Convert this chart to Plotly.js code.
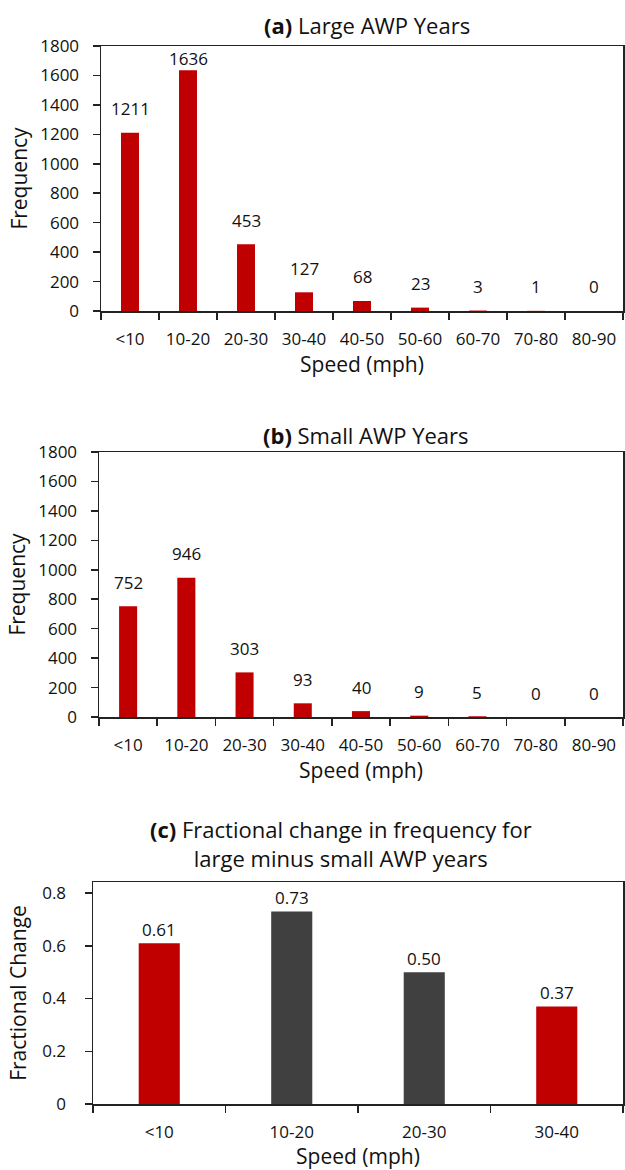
<!DOCTYPE html>
<html>
<head>
<meta charset="utf-8">
<script src="https://cdn.plot.ly/plotly-3.0.1.min.js"></script>
<style>
html,body{margin:0;padding:0;background:#fff;}
#chart{width:625px;height:1170px;}
</style>
</head>
<body>
<div id="chart"></div>
<script>
// ---- data ----
const speedBins = ["<10","10-20","20-30","30-40","40-50","50-60","60-70","70-80","80-90"];
const largeAWP = [1211,1636,453,127,68,23,3,1,0];
const smallAWP = [752,946,303,93,40,9,5,0,0];
const changeBins = ["<10","10-20","20-30","30-40"];
const fractionalChange = [0.61,0.73,0.50,0.37];
const changeLabels = ["0.61","0.73","0.50","0.37"];
const freqTicks = [0,200,400,600,800,1000,1200,1400,1600,1800];
const fracTicks = [0,0.2,0.4,0.6,0.8];

// ---- style ----
const RED = "#c00000", GREY = "#404040", AX = "#222222";
const FONT = "Open Sans, Noto Sans, sans-serif";
const TICKF = {family: FONT, size: 17, color: "#111"};
const TITLEF = {family: FONT, size: 21, color: "#111"};
const barColorsC = [RED, GREY, GREY, RED];

const traces = [
  {type:"bar", x: speedBins, y: largeAWP, xaxis:"x", yaxis:"y", marker:{color:RED}, width:0.31, hoverinfo:"x+y"},
  {type:"bar", x: speedBins, y: smallAWP, xaxis:"x2", yaxis:"y2", marker:{color:RED}, width:0.31, hoverinfo:"x+y"},
  {type:"bar", x: changeBins, y: fractionalChange, xaxis:"x3", yaxis:"y3", marker:{color:barColorsC}, width:0.31, hoverinfo:"x+y"}
];

function catAxis(domain, anchor, cats, title, standoff){
  return {
    domain: domain, anchor: anchor, type:"category",
    categoryorder:"array", categoryarray: cats,
    range:[-0.5, cats.length-0.5],
    showline:true, linecolor:AX, linewidth:1.5, mirror:true,
    ticks:"outside", ticklen:7, tickwidth:1.5, tickcolor:AX, tickson:"boundaries",
    ticklabelstandoff: 12,
    showgrid:false, zeroline:false, fixedrange:true,
    tickfont: TICKF,
    title:{text:title, font:TITLEF, standoff: standoff}
  };
}
function valAxis(domain, anchor, range, tickvals, ticktext, title, standoff, labelGap){
  return {
    domain: domain, anchor: anchor, range: range,
    tickmode:"array", tickvals: tickvals, ticktext: ticktext,
    showline:true, linecolor:AX, linewidth:1.5, mirror:true,
    ticks:"outside", ticklen:7, tickwidth:1.5, tickcolor:AX,
    ticklabelstandoff: labelGap,
    showgrid:false, zeroline:false, fixedrange:true,
    tickfont: TICKF,
    title:{text:title, font:TITLEF, standoff: standoff}
  };
}
function overlayX(base, anchor, n){
  const b = [];
  for (let i=0;i<=n;i++) b.push(i-0.5);
  return {overlaying: base, anchor: anchor, range:[-0.5, n-0.5], tickmode:"array", tickvals:b,
    ticks:"inside", ticklen:7, tickwidth:1.5, tickcolor:AX, showticklabels:false,
    showline:false, showgrid:false, zeroline:false, fixedrange:true};
}
function overlayY(base, anchor, range, tickvals){
  return {overlaying: base, anchor: anchor, range: range, tickmode:"array", tickvals: tickvals,
    ticks:"inside", ticklen:7, tickwidth:1.5, tickcolor:AX, showticklabels:false,
    showline:false, showgrid:false, zeroline:false, fixedrange:true};
}

const W = 625, H = 1170;
const domA = {x:[101/W, 623/W], y:[1-311/H, 1-46/H]};
const domB = {x:[99/W, 623/W], y:[1-717/H, 1-452/H]};
const domC = {x:[93/W, 623/W], y:[1-1104/H, 1-882/H]};
const rangeF = [0,1800], rangeC = [0,0.842];

const layout = {
  width: W, height: H,
  margin:{l:0,r:0,t:0,b:0},
  paper_bgcolor:"#fff", plot_bgcolor:"#fff",
  showlegend:false,
  font:{family: FONT, color:"#111"},
  xaxis: catAxis(domA.x, "y", speedBins, "Speed (mph)", 4),
  yaxis: valAxis(domA.y, "x", rangeF, freqTicks, freqTicks.map(String), "Frequency", 7, 10),
  xaxis2: catAxis(domB.x, "y2", speedBins, "Speed (mph)", 4),
  yaxis2: valAxis(domB.y, "x2", rangeF, freqTicks, freqTicks.map(String), "Frequency", 7, 10),
  xaxis3: catAxis(domC.x, "y3", changeBins, "Speed (mph)", 4),
  yaxis3: valAxis(domC.y, "x3", rangeC, fracTicks, fracTicks.map(String), "Fractional Change", 10, 15),
  xaxis4: overlayX("x", "y", speedBins.length),
  yaxis4: overlayY("y", "x", rangeF, freqTicks),
  xaxis5: overlayX("x2", "y2", speedBins.length),
  yaxis5: overlayY("y2", "x2", rangeF, freqTicks),
  xaxis6: overlayX("x3", "y3", changeBins.length),
  yaxis6: overlayY("y3", "x3", rangeC, fracTicks),
  annotations: []
};

// panel titles
const PTF = {family:FONT, size:22, color:"#111"};
layout.annotations.push(
  {xref:"paper", yref:"paper", x:367/W, y:1-25/H, xanchor:"center", yanchor:"middle", showarrow:false,
   text:"<b>(a)</b> Large AWP Years", font:PTF},
  {xref:"paper", yref:"paper", x:366/W, y:1-435/H, xanchor:"center", yanchor:"middle", showarrow:false,
   text:"<b>(b)</b> Small AWP Years", font:PTF},
  {xref:"paper", yref:"paper", x:341/W, y:1-843/H, xanchor:"center", yanchor:"middle", showarrow:false,
   text:"<b>(c)</b> Fractional change in frequency for<br>large minus small AWP years", font:PTF}
);

// data labels (frequency panels): ~24 px above bar top, kept inside the frame
function freqLabels(vals, xref, yref, plotH){
  vals.forEach((v, i) => {
    const room = (rangeF[1]-v)/(rangeF[1]-rangeF[0])*plotH;
    const shift = Math.min(24, room - 13);
    layout.annotations.push({xref:xref, yref:yref, x: speedBins[i], y: v, yshift: shift,
      xanchor:"center", yanchor:"middle", showarrow:false, text:String(v), font:TICKF});
  });
}
freqLabels(largeAWP, "x", "y", 265);
freqLabels(smallAWP, "x2", "y2", 265);
fractionalChange.forEach((v, i) => {
  layout.annotations.push({xref:"x3", yref:"y3", x: changeBins[i], y: v, yshift: 14,
    xanchor:"center", yanchor:"middle", showarrow:false, text: changeLabels[i], font:TICKF});
});

Plotly.newPlot("chart", traces, layout, {displayModeBar:false, staticPlot:true});
</script>
</body>
</html>
